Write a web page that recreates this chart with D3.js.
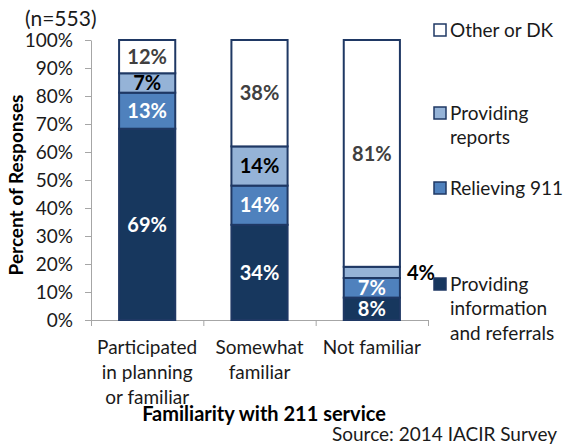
<!DOCTYPE html>
<html>
<head>
<meta charset="utf-8">
<script src="https://cdn.jsdelivr.net/npm/d3@7"></script>
<style>
  body { margin: 0; background: #fff; }
  text { font-family: Lato, "Open Sans", sans-serif; }
</style>
</head>
<body>
<div id="chart"></div>
<script>
// data (percent of responses)
const categories = [["Participated", "in planning", "or familiar"], ["Somewhat", "familiar"], ["Not familiar"]];
const seriesNames = ["Providing information and referrals", "Relieving 911", "Providing reports", "Other or DK"];
const infoReferrals = [69, 34, 8];
const relieving911 = [13, 14, 7];
const providingReports = [7, 14, 4];
const otherDK = [12, 38, 81];
const yTicks = [0, 0.1, 0.2, 0.3, 0.4, 0.5, 0.6, 0.7, 0.8, 0.9, 1];

const legendItems = [
  {key: "Other or DK", lines: ["Other or DK"]},
  {key: "Providing reports", lines: ["Providing", "reports"]},
  {key: "Relieving 911", lines: ["Relieving 911"]},
  {key: "Providing information and referrals", lines: ["Providing", "information", "and referrals"]}
];

var w = 564, h = 444;
var color = d3.scaleOrdinal()
  .domain(seriesNames)
  .range(["#17375e", "#4f81bd", "#95b3d7", "#ffffff"]);
var labelColor = d3.scaleOrdinal()
  .domain(seriesNames)
  .range(["#ffffff", "#ffffff", "#000000", "#404040"]);

var rows = categories.map(function(c, i){
  return {
    cat: c.join(" "),
    "Providing information and referrals": infoReferrals[i],
    "Relieving 911": relieving911[i],
    "Providing reports": providingReports[i],
    "Other or DK": otherDK[i]
  };
});

var stack = d3.stack().keys(seriesNames).offset(d3.stackOffsetExpand);
var layers = stack(rows);

var x = d3.scaleBand()
  .domain(rows.map(d => d.cat))
  .range([91, 428])
  .paddingInner(0.5)
  .paddingOuter(0.25);

var y = d3.scaleLinear().domain([0, 1]).range([320, 40]);

var svg = d3.select("#chart").append("svg")
  .attr("width", w)
  .attr("height", h);

// y axis
var yAxis = svg.append("g")
  .attr("transform", "translate(91,0)")
  .call(d3.axisLeft(y).tickValues(yTicks).tickFormat(d3.format(".0%")).tickSize(6).tickSizeOuter(0));
yAxis.select(".domain").attr("stroke", "#a6a6a6");
yAxis.selectAll(".tick line").attr("stroke", "#a6a6a6");
yAxis.selectAll(".tick text")
  .attr("x", -18)
  .style("font-size", "19px")
  .style("font-family", "Lato")
  .attr("fill", "#1a1a1a");

// x axis, ticks between categories
var xb = d3.scaleLinear().domain([0, 3]).range([91, 428]);
var xAxis = svg.append("g")
  .attr("transform", "translate(0,320)")
  .call(d3.axisBottom(xb).tickValues([0, 1, 2, 3]).tickFormat("").tickSize(6).tickSizeOuter(0));
xAxis.select(".domain").attr("stroke", "#a6a6a6");
xAxis.selectAll(".tick line").attr("stroke", "#a6a6a6");

// bars
var layer = svg.selectAll(".layer")
  .data(layers)
  .enter().append("g")
  .attr("class", "layer");

layer.selectAll("rect")
  .data(d => d.map(p => ({key: d.key, p: p})))
  .enter().append("rect")
  .attr("x", d => x(d.p.data.cat))
  .attr("y", d => y(d.p[1]))
  .attr("width", x.bandwidth())
  .attr("height", d => y(d.p[0]) - y(d.p[1]))
  .attr("fill", d => color(d.key))
  .attr("stroke", "#1f3864")
  .attr("stroke-width", 2);

// data labels
layer.selectAll(".lbl")
  .data(d => d.map(p => ({key: d.key, p: p})))
  .enter().append("text")
  .attr("class", "lbl")
  .attr("x", function(d){
    var v = d.p.data[d.key];
    if (v < 5) return x(d.p.data.cat) + x.bandwidth() + 7;
    return x(d.p.data.cat) + x.bandwidth() / 2;
  })
  .attr("y", d => (y(d.p[0]) + y(d.p[1])) / 2)
  .attr("dy", "0.36em")
  .attr("text-anchor", d => d.p.data[d.key] < 5 ? "start" : "middle")
  .style("font-size", "20px")
  .style("font-weight", "bold")
  .attr("fill", d => d.p.data[d.key] < 5 ? "#000" : labelColor(d.key))
  .text(d => d.p.data[d.key] + "%");

// category labels
categories.forEach(function(lines, i){
  var t = svg.append("text")
    .attr("x", x(rows[i].cat) + x.bandwidth() / 2)
    .attr("y", 354)
    .attr("text-anchor", "middle")
    .style("font-size", "19px")
    .attr("fill", "#1a1a1a");
  lines.forEach(function(l, j){
    t.append("tspan")
      .attr("x", x(rows[i].cat) + x.bandwidth() / 2)
      .attr("dy", j == 0 ? 0 : 25)
      .text(l);
  });
});

// axis titles
svg.append("text")
  .attr("transform", "translate(23,185) rotate(-90)")
  .attr("text-anchor", "middle")
  .style("font-size", "19px")
  .style("font-weight", "bold")
  .text("Percent of Responses");

svg.append("text")
  .attr("x", 264)
  .attr("y", 421)
  .attr("text-anchor", "middle")
  .style("font-size", "20px")
  .style("font-weight", "bold")
  .text("Familiarity with 211 service");

svg.append("text")
  .attr("x", 557)
  .attr("y", 441)
  .attr("text-anchor", "end")
  .style("font-size", "19px")
  .attr("fill", "#1a1a1a")
  .text("Source: 2014 IACIR Survey");

svg.append("text")
  .attr("x", 25)
  .attr("y", 26)
  .style("font-size", "21px")
  .attr("fill", "#1a1a1a")
  .text("(n=553)");

// legend
var legendY = [30, 113, 188, 284];
var legend = svg.selectAll(".legend")
  .data(legendItems)
  .enter().append("g")
  .attr("class", "legend")
  .attr("transform", (d, i) => "translate(434," + legendY[i] + ")");

legend.append("rect")
  .attr("x", 0)
  .attr("y", -6)
  .attr("width", 12)
  .attr("height", 12)
  .attr("fill", d => color(d.key))
  .attr("stroke", "#1f3864")
  .attr("stroke-width", 1.5);

legend.each(function(d){
  var t = d3.select(this).append("text")
    .attr("x", 16)
    .attr("y", 0)
    .style("font-size", "19px")
    .attr("fill", "#1a1a1a");
  d.lines.forEach(function(l, j){
    t.append("tspan")
      .attr("x", 16)
      .attr("dy", j == 0 ? "0.36em" : 24.5)
      .text(l);
  });
});
</script>
</body>
</html>
